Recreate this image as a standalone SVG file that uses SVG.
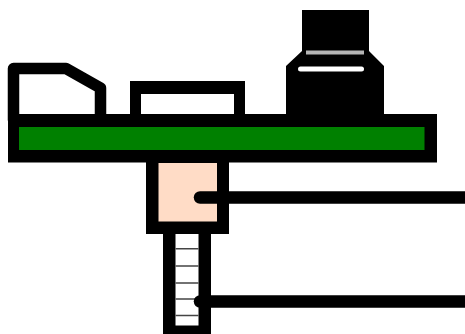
<svg xmlns="http://www.w3.org/2000/svg" width="465" height="334" viewBox="0 0 465 334">
<style>
.k{fill:#000}
.o{fill:#fff;stroke:#000;stroke-width:11.5;stroke-linejoin:round}
.w{fill:none;stroke:#000;stroke-width:12.5;stroke-linecap:round}
.t{stroke:#444;stroke-width:1.5}
</style>
<rect width="465" height="334" fill="#fff"/>
<g id="switch-left"><path class="o" d="M13.5 120V68.500H66L100.500 88V120Z"/></g>
<g id="switch-middle"><rect x="130" y="81" width="115" height="40" class="k"/><rect x="141" y="94" width="93" height="24" fill="#fff"/></g>
<g id="connector-right">
<path class="k" d="M302 10H369V51L384 66V120H286V66L302 51Z"/>
<rect x="306" y="50.500" width="58" height="4" fill="#b5b5b5"/>
<rect x="298" y="66.500" width="66" height="5" rx="2.500" fill="#fff"/>
</g>
<g id="board"><rect x="8" y="114" width="429" height="48.500" class="k"/><rect x="19" y="127" width="405.500" height="23" fill="#008000"/></g>
<g id="screw">
<rect x="163" y="230" width="48" height="104" class="k"/>
<rect x="175.500" y="234" width="23" height="91.500" fill="#fff"/>
<path class="t" d="M175.500 248.700H198.500M175.500 266H198.500M175.500 283H198.500M175.500 299H198.500M175.500 315.500H198.500"/>
</g>
<g id="nut"><rect x="146" y="160" width="83" height="74" class="k"/><rect x="158.500" y="163" width="58.500" height="58.500" fill="#ffdcc6"/></g>
<g id="connectors">
<path class="w" d="M200 197.500H480"/>
<path class="w" d="M200 301.500H480"/>
</g>
</svg>
